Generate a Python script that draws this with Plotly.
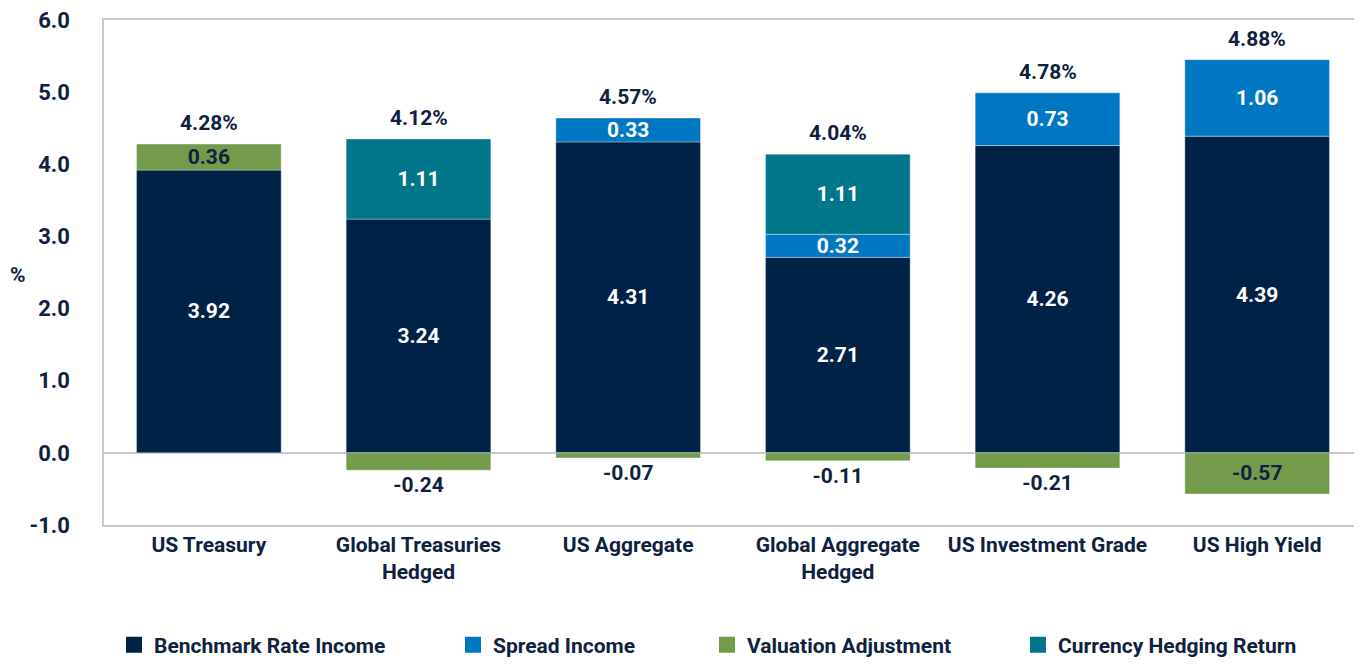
import plotly.graph_objects as go

categories = ["US Treasury", "Global Treasuries<br>Hedged", "US Aggregate",
              "Global Aggregate<br>Hedged", "US Investment Grade", "US High Yield"]
benchmark = [3.92, 3.24, 4.31, 2.71, 4.26, 4.39]
spread = [None, None, 0.33, 0.32, 0.73, 1.06]
valuation = [0.36, -0.24, -0.07, -0.11, -0.21, -0.57]
currency = [None, 1.11, None, 1.11, None, None]
totals = [4.28, 4.12, 4.57, 4.04, 4.78, 4.88]

series_names = ["Benchmark Rate Income", "Spread Income", "Valuation Adjustment", "Currency Hedging Return"]
colors = ["#012247", "#0077C3", "#739B4B", "#00768A"]
NAVY = "#0E2240"
FONT = "Roboto"
W = "bold"

# The page body has an 8px margin on every side; keep the whole page inside the
# 1362x669 window and place the plot area where the reference has it.
OFF = 8
VIEW_W, VIEW_H = 1362, 669
fig_w, fig_h = VIEW_W - 2 * OFF, VIEW_H - 2 * OFF
plot_left, plot_top, plot_bottom = 104, 20, 525          # page pixels
plot_right = OFF + fig_w                                   # page pixels
pw = plot_right - plot_left
ph = plot_bottom - plot_top
step = (1362 - plot_left) / len(categories)              # category step in reference
x_range = [-0.5, -0.5 + pw / step]

fig = go.Figure()

def fmt(v):
    return "" if v is None else f"{v:.2f}"

val_pos = ["inside" if abs(v) >= 0.3 else "outside" for v in valuation]

series = [benchmark, spread, valuation, currency]
text_colors = ["white", "white", NAVY, "white"]
for i, (name, vals) in enumerate(zip(series_names, series)):
    fig.add_trace(go.Bar(
        x=categories, y=vals, name=name,
        marker=dict(color=colors[i], line=dict(color="rgba(255,255,255,0.35)", width=1)),
        width=0.69,
        text=[fmt(v) for v in vals],
        textposition=val_pos if i == 2 else "inside",
        insidetextanchor="middle",
        textangle=0,
        insidetextfont=dict(color=text_colors[i], size=21, family=FONT, weight=W),
        outsidetextfont=dict(color=NAVY, size=21, family=FONT, weight=W),
        showlegend=False, cliponaxis=False,
    ))

# positive stack tops for total labels
tops = []
for j in range(len(categories)):
    s = 0
    for vals in series:
        v = vals[j]
        if v is not None and v > 0:
            s += v
    tops.append(s)

annotations = []
for c, t, tot in zip(categories, tops, totals):
    annotations.append(dict(
        x=c, y=t, xref="x", yref="y", text=f"{tot:.2f}%", showarrow=False,
        yanchor="bottom", yshift=7,
        font=dict(color=NAVY, size=21, family=FONT, weight=W),
    ))
annotations.append(dict(
    x=(18 - plot_left) / pw, y=(plot_bottom - 275) / ph, xref="paper", yref="paper",
    text="%", showarrow=False, xanchor="center", yanchor="middle",
    font=dict(color=NAVY, size=21, family=FONT, weight=W),
))

# legend entries (one legend per item for exact placement)
legend_x_px = [114, 453, 707, 1018]
for i, name in enumerate(series_names):
    lg = "legend" if i == 0 else f"legend{i+1}"
    fig.add_trace(go.Scatter(
        x=[None], y=[None], mode="markers", name=name,
        marker=dict(symbol="square", size=16, color=colors[i]),
        showlegend=True, legend=lg,
    ))

legend_common = dict(orientation="h", yanchor="middle", y=(plot_bottom - 645) / ph, xanchor="left",
                     font=dict(family=FONT, size=21, color=NAVY, weight=W), bgcolor="rgba(0,0,0,0)",
                     itemclick=False, itemdoubleclick=False)
layout_legends = {}
for i in range(4):
    key = "legend" if i == 0 else f"legend{i+1}"
    d = dict(legend_common)
    d["x"] = (legend_x_px[i] - plot_left) / pw
    layout_legends[key] = d

fig.update_layout(
    width=fig_w, height=fig_h,
    margin=dict(l=plot_left - OFF, r=0, t=plot_top - OFF, b=(OFF + fig_h) - plot_bottom,
                autoexpand=False),
    barmode="relative",
    plot_bgcolor="white", paper_bgcolor="white",
    font=dict(family=FONT, color=NAVY, size=21, weight=W),
    uniformtext=dict(minsize=21, mode="show"),
    annotations=annotations,
    xaxis=dict(range=x_range, showline=True, linecolor="#C8C8C8", linewidth=1.5, mirror=True,
               showgrid=False, ticks="", tickfont=dict(size=21, family=FONT, color=NAVY, weight=W),
               ticklabeloverflow="allow", automargin=False),
    yaxis=dict(range=[-1, 6], tickvals=[-1, 0, 1, 2, 3, 4, 5, 6],
               ticktext=["-1.0", "0.0", "1.0", "2.0", "3.0", "4.0", "5.0", "6.0"],
               showline=True, linecolor="#C8C8C8", linewidth=1.5,
               showgrid=False, zeroline=True, zerolinecolor="#C8C8C8", zerolinewidth=1.5,
               ticks="", ticklabelstandoff=28, ticklabeloverflow="allow",
               tickfont=dict(size=22, family=FONT, color=NAVY, weight=W),
               automargin=False),
    **layout_legends,
)

fig.write_html("out.html")
